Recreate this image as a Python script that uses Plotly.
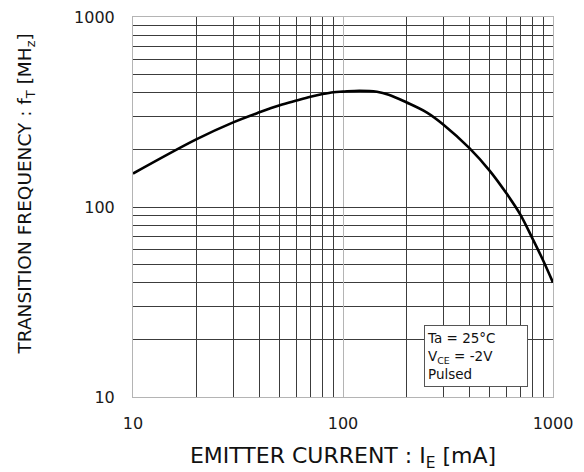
import plotly.graph_objects as go

# Data (emitter current in mA, transition frequency in MHz)
ie_ma = [10, 20, 30, 40, 50, 60, 70, 80, 90, 100, 120, 145, 165, 200, 250,
         300, 400, 500, 600, 700, 800, 900, 1000]
ft_mhz = [150, 227, 279, 315, 343, 363, 380, 393, 402, 405, 409, 404, 390, 356, 315,
          272, 204, 155, 118, 91, 68, 52, 40]

x_ticks = [10, 100, 1000]
y_ticks = [10, 100, 1000]
x_ticktext = ["10", "100", "1000"]
y_ticktext = ["10", "100", "1000"]

FONT = "DejaVu Sans"

fig = go.Figure()
fig.add_trace(go.Scatter(
    x=ie_ma, y=ft_mhz, mode="lines",
    line=dict(color="black", width=2.6, shape="spline", smoothing=1.0),
    hoverinfo="skip", showlegend=False,
))

common_minor = dict(showgrid=True, gridcolor="#3c3c3c", gridwidth=1, dtick="D1", ticks="")

fig.update_xaxes(
    type="log", range=[1, 3], automargin=False,
    tickvals=x_ticks, ticktext=x_ticktext,
    showgrid=True, gridcolor="#b4b4b4", gridwidth=1,
    minor=common_minor,
    showline=True, linecolor="#b4b4b4", linewidth=1, mirror=True,
    ticks="", ticklabelstandoff=12,
    tickfont=dict(family=FONT, size=16, color="#1a1a1a"),
    zeroline=False,
    title=dict(text="EMITTER CURRENT : I<sub>E</sub> [mA]",
               font=dict(family=FONT, size=22, color="#111"), standoff=21),
)
fig.update_yaxes(
    type="log", range=[1, 3], automargin=False,
    tickvals=y_ticks, ticktext=y_ticktext,
    showgrid=True, gridcolor="#3c3c3c", gridwidth=1,
    minor=common_minor,
    showline=True, linecolor="#b4b4b4", linewidth=1, mirror=True,
    ticks="", ticklabelstandoff=14,
    tickfont=dict(family=FONT, size=16, color="#1a1a1a"),
    zeroline=False,
)

# Y axis title as rotated annotation
fig.add_annotation(
    text="TRANSITION FREQUENCY : f<sub>T</sub> [MH<sub>z</sub>]",
    xref="paper", yref="paper", x=-0.2548, y=0.5355,
    xanchor="center", yanchor="middle", textangle=-90, showarrow=False,
    font=dict(family=FONT, size=18.5, color="#111"),
)

# Conditions box
fig.add_annotation(
    text="Ta = 25°C<br>V<sub>CE</sub> = -2V<br>Pulsed",
    xref="paper", yref="paper", x=0.940, y=0.0255,
    xanchor="right", yanchor="bottom", showarrow=False, align="left",
    width=98, height=56, borderpad=2, borderwidth=1, bordercolor="#555",
    bgcolor="white",
    font=dict(family=FONT, size=13.5, color="#111"),
)

fig.update_layout(
    width=584, height=472,
    margin=dict(l=133, r=31, t=17, b=75),
    paper_bgcolor="white", plot_bgcolor="white",
    showlegend=False,
)

fig.write_html("out.html")
